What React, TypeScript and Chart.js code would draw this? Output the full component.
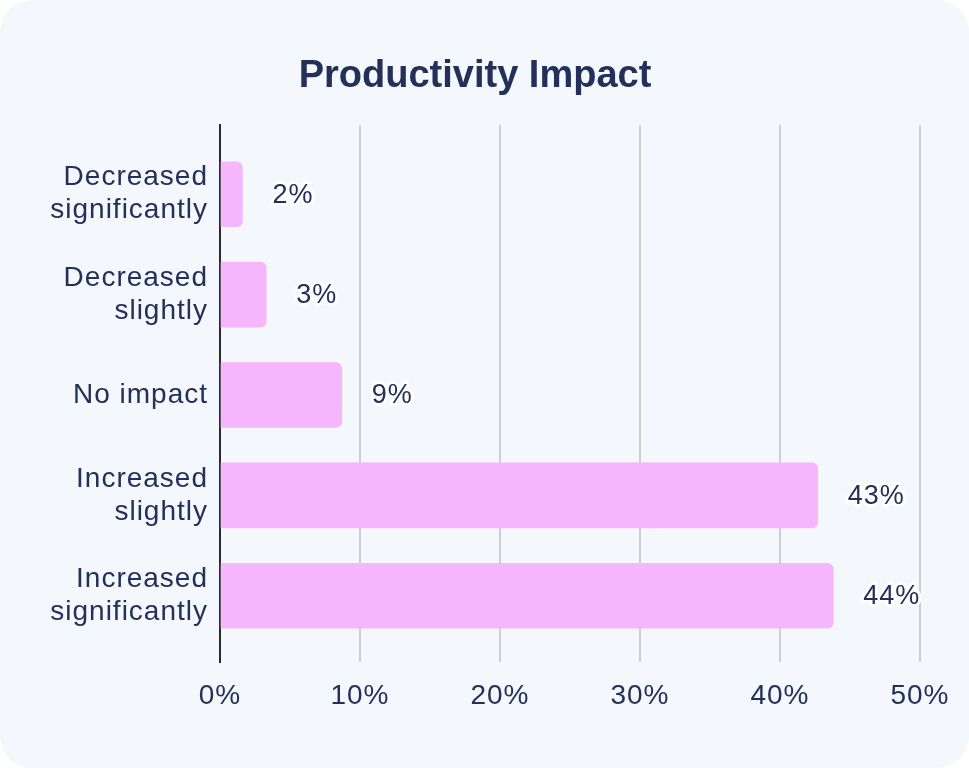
import React, { useEffect, useRef } from "react";
import { Chart, registerables } from "chart.js";

Chart.register(...registerables);

const TITLE = "Productivity Impact";
const categories: string[][] = [
  ["Decreased", "significantly"],
  ["Decreased", "slightly"],
  ["No impact"],
  ["Increased", "slightly"],
  ["Increased", "significantly"],
];
const values: number[] = [1.6, 3.3, 8.7, 42.7, 43.8];
const xTicks: number[] = [0, 10, 20, 30, 40, 50];

const FONT = "'Liberation Sans', Arial, sans-serif";
const NAVY = "#22305a";
const BAR = "#f5b6fd";
const CARD = "#f4f7fb";
const LS = "1px";

export default function App() {
  const ref = useRef<HTMLCanvasElement | null>(null);

  useEffect(() => {
    document.body.style.margin = "0";
    const canvas = ref.current!;
    const W = 969;
    const H = 768;

    const spacing = (chart: any, v: string) => {
      (chart.ctx as any).letterSpacing = v;
    };

    const plugin = {
      id: "custom",
      beforeUpdate(chart: any) {
        spacing(chart, LS);
      },
      beforeDraw(chart: any) {
        const ctx = chart.ctx;
        ctx.save();
        ctx.fillStyle = "#ffffff";
        ctx.fillRect(0, 0, W, H);
        ctx.fillStyle = CARD;
        ctx.beginPath();
        (ctx as any).roundRect(0, 0, W, H, 32);
        ctx.fill();
        ctx.restore();
        spacing(chart, LS);
      },
      afterDatasetsDraw(chart: any) {
        const ctx = chart.ctx;
        const meta = chart.getDatasetMeta(0);
        ctx.save();
        (ctx as any).letterSpacing = LS;
        ctx.font = `27px ${FONT}`;
        ctx.textAlign = "left";
        ctx.textBaseline = "middle";
        ctx.lineJoin = "round";
        meta.data.forEach((bar: any, i: number) => {
          const txt = Math.round(values[i]) + "%";
          const x = bar.x + 30;
          const y = bar.y + 1;
          ctx.strokeStyle = "#ffffff";
          ctx.lineWidth = 6;
          ctx.strokeText(txt, x, y);
          ctx.fillStyle = NAVY;
          ctx.fillText(txt, x, y);
        });
        ctx.restore();
      },
      afterDraw(chart: any) {
        const ctx = chart.ctx;
        ctx.save();
        (ctx as any).letterSpacing = "0px";
        ctx.font = `bold 38px ${FONT}`;
        ctx.fillStyle = NAVY;
        ctx.textAlign = "center";
        ctx.textBaseline = "alphabetic";
        ctx.fillText(TITLE, 475, 87);
        ctx.restore();
      },
    };

    const chart = new Chart(canvas, {
      type: "bar",
      data: {
        datasets: [
          {
            data: values.map((v, i) => ({ x: v, y: i })) as any,
            backgroundColor: BAR,
            borderRadius: 6,
            borderSkipped: "start",
            barThickness: 65,
          },
        ],
      },
      options: {
        indexAxis: "y",
        animation: false,
        responsive: false,
        devicePixelRatio: 1,
        layout: { padding: { left: 0, top: 125, right: 49, bottom: 0 } },
        plugins: {
          legend: { display: false },
          title: { display: false },
          tooltip: { enabled: false },
        },
        scales: {
          x: {
            type: "linear",
            position: "bottom",
            min: 0,
            max: 50,
            afterBuildTicks: (axis: any) => {
              axis.ticks = xTicks.map((v) => ({ value: v }));
            },
            afterFit: (scale: any) => {
              scale.height = 106;
            },
            ticks: {
              color: NAVY,
              font: { family: FONT, size: 28 },
              padding: 17,
              callback: (v: any) => v + "%",
            },
            grid: {
              color: (c: any) => (c.tick && c.tick.value === 0 ? "rgba(0,0,0,0)" : "#cfcfcf"),
              lineWidth: 2,
              drawTicks: false,
            },
            border: { display: false },
          },
          y: {
            type: "linear",
            position: "left",
            reverse: true,
            offset: false,
            min: -0.69,
            max: 4.66,
            afterBuildTicks: (axis: any) => {
              axis.ticks = categories.map((_, i) => ({ value: i }));
            },
            afterFit: (scale: any) => {
              scale.width = 220;
            },
            ticks: {
              color: NAVY,
              font: { family: FONT, size: 28, lineHeight: 1.18 },
              padding: 12,
              autoSkip: false,
              callback: (v: any) => categories[Math.round(Number(v))] ?? "",
            },
            grid: { display: false, drawTicks: false, offset: false },
            border: { display: true, color: "#2a2a2a", width: 2 },
          },
        },
      } as any,
      plugins: [plugin],
    });

    return () => chart.destroy();
  }, []);

  return (
    <canvas
      ref={ref}
      width={969}
      height={768}
      style={{ display: "block", width: 969, height: 768 }}
    />
  );
}
